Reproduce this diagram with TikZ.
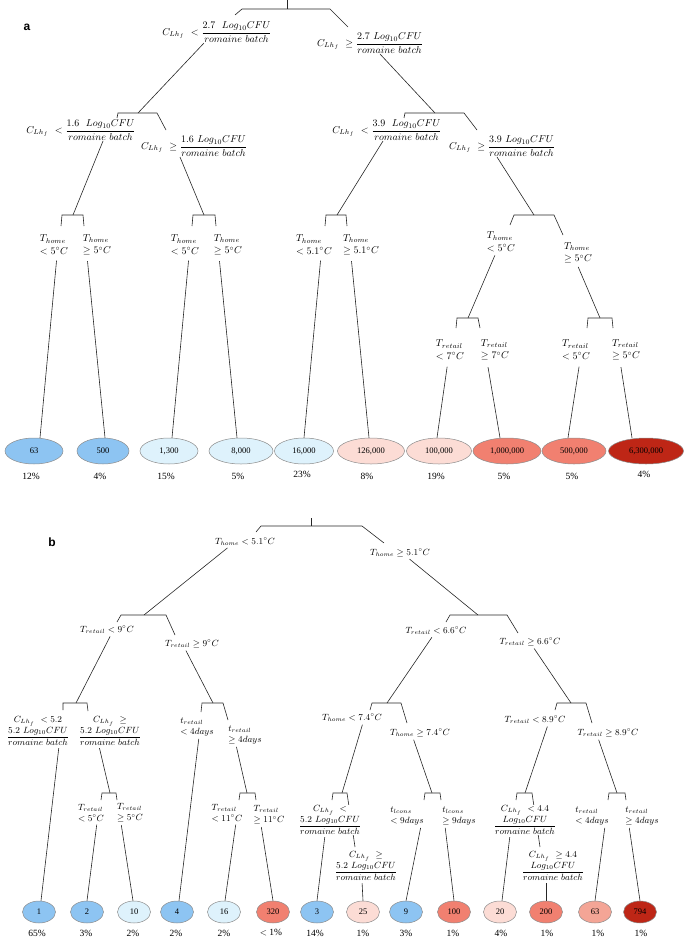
\documentclass[tikz,border=0pt]{standalone}
\usepackage{fontspec}
\usetikzlibrary{shapes.geometric}
\newfontfamily\numfont{Liberation Serif}
\newfontfamily\panelfont{Liberation Sans}
\definecolor{cblue}{RGB}{141,196,242}
\definecolor{cpale}{RGB}{222,242,252}
\definecolor{cpink}{RGB}{252,220,213}
\definecolor{csalm}{RGB}{241,128,112}
\definecolor{csalmL}{RGB}{244,165,150}
\definecolor{cdark}{RGB}{190,38,22}
\pgfdeclarelayer{bg}
\pgfsetlayers{bg,main}
\newcommand{\mkbar}[9]{%
 \coordinate (#1l) at (#3,#2);
 \coordinate (#1r) at (#4,#2);
 \coordinate (#1j) at (#9,#2);
 \coordinate (#1tl) at (#5,#6);
 \coordinate (#1tr) at (#7,#8);
 \draw[con] (#1tl) -- (#1l) -- (#1r) -- (#1tr);}
\begin{document}
\begin{tikzpicture}[x=1pt,y=-1pt,
 con/.style={draw=black!85,line width=0.6pt},
 la/.style={inner sep=0.6pt,font=\fontsize{10}{11.5}\selectfont,align=center},
 lt/.style={inner sep=0.6pt,font=\fontsize{10}{12.5}\selectfont,align=left},
 lb/.style={inner sep=0.6pt,font=\fontsize{8.8}{11}\selectfont,align=center},
 ltb/.style={inner sep=0.6pt,font=\fontsize{8.8}{11}\selectfont,align=left},
 leaf/.style={ellipse,draw=black!45,line width=0.5pt,inner sep=0pt,font=\numfont\fontsize{8.5}{9}\selectfont},
 leafa/.style={leaf,minimum height=26pt},
 leafb/.style={leaf,minimum height=22pt,minimum width=33pt},
 pct/.style={inner sep=0pt,font=\numfont\fontsize{9.5}{10}\selectfont},
 pan/.style={inner sep=0pt,font=\panelfont\bfseries\fontsize{12}{12}\selectfont}]
\useasboundingbox (0,0) rectangle (685,942);

% ---------------- panel a ----------------
\node[pan] (pa) at (27,27) {a};
\node[la] (aL1) at (217,32) {$\displaystyle C_{Lh_f}\ <\frac{2.7\ \ Log_{10}CFU}{romaine\ batch}$};
\node[la] (aR1) at (370,43) {$\displaystyle C_{Lh_f}\ \geq\frac{2.7\ Log_{10}CFU}{romaine\ batch}$};
\node[la] (aLL) at (81,130) {$\displaystyle C_{Lh_f}\ <\frac{1.6\ \ Log_{10}CFU}{romaine\ batch}$};
\node[la] (aLR) at (194,146) {$\displaystyle C_{Lh_f}\ \geq\frac{1.6\ Log_{10}CFU}{romaine\ batch}$};
\node[la] (aRL) at (387,130) {$\displaystyle C_{Lh_f}\ <\frac{3.9\ \ Log_{10}CFU}{romaine\ batch}$};
\node[la] (aRR) at (502,146) {$\displaystyle C_{Lh_f}\ \geq\frac{3.9\ Log_{10}CFU}{romaine\ batch}$};

\node[lt] (aLLa) at (54,245) {$T_{home}$\\$<5^{\circ}C$};
\node[lt] (aLLb) at (97,245) {$T_{home}$\\$\geq5^{\circ}C$};
\node[lt] (aLRa) at (185,245) {$T_{home}$\\$<5^{\circ}C$};
\node[lt] (aLRb) at (228,245) {$T_{home}$\\$\geq5^{\circ}C$};
\node[lt] (aRLa) at (314,245) {$T_{home}$\\$<5.1^{\circ}C$};
\node[lt] (aRLb) at (361,245) {$T_{home}$\\$\geq5.1^{\circ}C$};
\node[lt] (aRRa) at (501,242) {$T_{home}$\\$<5^{\circ}C$};
\node[lt] (aRRb) at (578,253) {$T_{home}$\\$\geq5^{\circ}C$};

\node[lt] (aRRa1) at (450,350) {$T_{retail}$\\$<7^{\circ}C$};
\node[lt] (aRRa2) at (495,350) {$T_{retail}$\\$\geq7^{\circ}C$};
\node[lt] (aRRb1) at (576,350) {$T_{retail}$\\$<5^{\circ}C$};
\node[lt] (aRRb2) at (626,350) {$T_{retail}$\\$\geq5^{\circ}C$};

\node[leafa,fill=cblue,minimum width=58pt] (a1) at (34,451) {63};
\node[leafa,fill=cblue,minimum width=52pt] (a2) at (103,451) {500};
\node[leafa,fill=cpale,minimum width=58pt] (a3) at (169,451) {1,300};
\node[leafa,fill=cpale,minimum width=64pt] (a4) at (241,451) {8,000};
\node[leafa,fill=cpale,minimum width=59pt] (a5) at (304,451) {16,000};
\node[leafa,fill=cpink,minimum width=67pt] (a6) at (371,451) {126,000};
\node[leafa,fill=cpink,minimum width=65pt] (a7) at (439,451) {100,000};
\node[leafa,fill=csalm,minimum width=68pt] (a8) at (507,451) {1,000,000};
\node[leafa,fill=csalm,minimum width=64pt] (a9) at (574,451) {500,000};
\node[leafa,fill=cdark,minimum width=75pt] (a10) at (646,451) {6,300,000};

\node[pct] (ap1) at (31,476) {12\%};
\node[pct] (ap2) at (100,476) {4\%};
\node[pct] (ap3) at (166,476) {15\%};
\node[pct] (ap4) at (238,476) {5\%};
\node[pct] (ap5) at (302,474) {23\%};
\node[pct] (ap6) at (367,476) {8\%};
\node[pct] (ap7) at (436,476) {19\%};
\node[pct] (ap8) at (504,476) {5\%};
\node[pct] (ap9) at (572,476) {5\%};
\node[pct] (ap10) at (644,474) {4\%};

% ---------------- panel b ----------------
\node[pan] (pb) at (52,542) {b};
\node[lb] (bL1) at (245,542) {$T_{home}<5.1^{\circ}C$};
\node[lb] (bR1) at (400,553) {$T_{home}\geq5.1^{\circ}C$};
\node[lb] (bLL) at (107,630) {$T_{retail}<9^{\circ}C$};
\node[lb] (bLR) at (192,644) {$T_{retail}\geq9^{\circ}C$};
\node[lb] (bRL) at (436,631) {$T_{retail}<6.6^{\circ}C$};
\node[lb] (bRR) at (530,642) {$T_{retail}\geq6.6^{\circ}C$};

\node[lb] (bLLa) at (38,731) {$C_{Lh_f}\ <5.2$\\$\displaystyle\frac{5.2\ Log_{10}CFU}{romaine\ batch}$};
\node[lb] (bLLb) at (110,731) {$C_{Lh_f}\ \geq$\\$\displaystyle\frac{5.2\ Log_{10}CFU}{romaine\ batch}$};
\node[ltb] (bLRa) at (197,727) {$t_{retail}$\\$<4days$};
\node[ltb] (bLRb) at (245,735) {$t_{retail}$\\$\geq4days$};
\node[lb] (bRLa) at (352,718) {$T_{home}<7.4^{\circ}C$};
\node[lb] (bRLb) at (420,733) {$T_{home}\geq7.4^{\circ}C$};
\node[lb] (bRRa) at (535,720) {$T_{retail}<8.9^{\circ}C$};
\node[lb] (bRRb) at (608,733) {$T_{retail}\geq8.9^{\circ}C$};

\node[ltb] (b4a) at (91,813) {$T_{retail}$\\$<5^{\circ}C$};
\node[ltb] (b4b) at (130,813) {$T_{retail}$\\$\geq5^{\circ}C$};
\node[ltb] (b4c) at (227,813) {$T_{retail}$\\$<11^{\circ}C$};
\node[ltb] (b4d) at (269,815) {$T_{retail}$\\$\geq11^{\circ}C$};
\node[lb,fill=white] (b4e) at (330,820) {$C_{Lh_f}\ <$\\$\displaystyle\frac{5.2\ Log_{10}CFU}{romaine\ batch}$};
\node[lb] (b4f) at (366,866) {$C_{Lh_f}\ \geq$\\$\displaystyle\frac{5.2\ Log_{10}CFU}{romaine\ batch}$};
\node[ltb] (b4g) at (407,816) {$t_{lcons}$\\$<9days$};
\node[ltb] (b4h) at (459,816) {$t_{lcons}$\\$\geq9days$};
\node[lb,fill=white] (b4i) at (525,820) {$C_{Lh_f}\ <4.4$\\$\displaystyle\frac{Log_{10}CFU}{romaine\ batch}$};
\node[lb] (b4j) at (553,866) {$C_{Lh_f}\ \geq4.4$\\$\displaystyle\frac{Log_{10}CFU}{romaine\ batch}$};
\node[ltb] (b4k) at (592,816) {$t_{retail}$\\$<4days$};
\node[ltb] (b4l) at (642,816) {$t_{retail}$\\$\geq4days$};

\node[leafb,fill=cblue] (m1) at (39,912) {1};
\node[leafb,fill=cblue] (m2) at (87,912) {2};
\node[leafb,fill=cpale] (m3) at (134,912) {10};
\node[leafb,fill=cblue] (m4) at (177,912) {4};
\node[leafb,fill=cpale] (m5) at (224,912) {16};
\node[leafb,fill=csalm] (m6) at (273,912) {320};
\node[leafb,fill=cblue] (m7) at (317,912) {3};
\node[leafb,fill=cpink] (m8) at (363,912) {25};
\node[leafb,fill=cblue] (m9) at (406,912) {9};
\node[leafb,fill=csalm] (m10) at (454,912) {100};
\node[leafb,fill=cpink] (m11) at (500,912) {20};
\node[leafb,fill=csalm] (m12) at (546,912) {200};
\node[leafb,fill=csalmL] (m13) at (595,912) {63};
\node[leafb,fill=cdark] (m14) at (640,912) {794};

\node[pct] (bp1) at (37,933) {65\%};
\node[pct] (bp2) at (86,933) {3\%};
\node[pct] (bp3) at (133,933) {2\%};
\node[pct] (bp4) at (176,933) {2\%};
\node[pct] (bp5) at (224,933) {2\%};
\node[pct] (bp6) at (271,933) {$<$ 1\%};
\node[pct] (bp7) at (315,933) {14\%};
\node[pct] (bp8) at (363,933) {1\%};
\node[pct] (bp9) at (406,933) {3\%};
\node[pct] (bp10) at (453,933) {1\%};
\node[pct] (bp11) at (501,933) {4\%};
\node[pct] (bp12) at (547,933) {1\%};
\node[pct] (bp13) at (598,933) {1\%};
\node[pct] (bp14) at (641,933) {1\%};

% ---------------- connectors ----------------
\begin{pgfonlayer}{bg}
% panel a
\coordinate (aStem) at (287,0);
\mkbar{aB1}{9}{242}{330}{235}{15}{348}{27}{287}
\draw[con] (aStem) -- (aB1j);
\mkbar{aB2L}{113}{118}{157}{117}{118}{166}{130}{138}
\mkbar{aB2R}{113}{405}{464}{404}{118}{477}{130}{435}
\mkbar{aB3a}{215}{62}{83}{61}{226}{84}{226}{73}
\mkbar{aB3b}{215}{193}{215}{192}{226}{216}{226}{204}
\mkbar{aB3c}{215}{326}{346}{325}{226}{347}{226}{337}
\mkbar{aB3d}{215}{514}{554}{510}{225}{563}{235}{534}
\mkbar{aB4a}{318}{457}{478}{456}{328}{480}{328}{468}
\mkbar{aB4b}{318}{588}{612}{587}{328}{613}{328}{600}
\draw[con] ([xshift=-13pt]aL1.south) -- (aB2Lj);
\draw[con] ([xshift=10pt]aR1.south) -- (aB2Rj);
\draw[con] ([xshift=22pt]aLL.south) -- (aB3aj);
\draw[con] ([xshift=-14pt]aLR.south) -- (aB3bj);
\draw[con] ([xshift=-4pt]aRL.south) -- (aB3cj);
\draw[con] ([xshift=-5pt]aRR.south) -- (aB3dj);
\draw[con,shorten <=3pt] ([xshift=-5pt]aRRa.south) -- (aB4aj);
\draw[con,shorten <=3pt] ([xshift=-1pt]aRRb.south) -- (aB4bj);
\draw[con,shorten <=5pt] ([xshift=3pt]aLLa.south) -- ([xshift=6pt]a1.north);
\draw[con,shorten <=5pt] ([xshift=-10pt]aLLb.south) -- ([xshift=2pt]a2.north);
\draw[con,shorten <=5pt] ([xshift=4pt]aLRa.south) -- ([xshift=3pt]a3.north);
\draw[con,shorten <=5pt] ([xshift=-9pt]aLRb.south) -- ([xshift=-4pt]a4.north);
\draw[con,shorten <=5pt] ([xshift=7pt]aRLa.south) -- (a5.north);
\draw[con,shorten <=5pt] ([xshift=-10pt]aRLb.south) -- ([xshift=-2pt]a6.north);
\draw[con,shorten <=6pt] ([xshift=-2pt]aRRa1.south) -- ([xshift=-2pt]a7.north);
\draw[con,shorten <=6pt] ([xshift=-8pt]aRRa2.south) -- ([xshift=-7pt]a8.north);
\draw[con,shorten <=6pt] ([xshift=4pt]aRRb1.south) -- ([xshift=-6pt]a9.north);
\draw[con,shorten <=6pt] ([xshift=-6pt]aRRb2.south) -- ([xshift=-14pt]a10.north);
% panel b
\coordinate (bStem) at (311,518);
\mkbar{bB1}{526}{261}{362}{256}{532}{384}{543}{311}
\draw[con] (bStem) -- (bB1j);
\mkbar{bB2L}{615}{121}{166}{117}{622}{175}{635}{144}
\mkbar{bB2R}{615}{450}{507}{446}{622}{518}{633}{478}
\mkbar{bB3a}{703}{63}{87}{63}{710}{88}{711}{76}
\mkbar{bB3b}{703}{202}{223}{201}{712}{228}{720}{213}
\mkbar{bB3c}{703}{372}{401}{370}{710}{407}{723}{387}
\mkbar{bB3d}{703}{557}{586}{555}{710}{592}{723}{571}
\mkbar{bB4a}{793}{102}{116}{101}{800}{117}{800}{110}
\mkbar{bB4b}{793}{240}{255}{239}{800}{256}{800}{247}
\mkbar{bB4c}{793}{333}{347}{332}{800}{355}{847}{342}
\mkbar{bB4d}{793}{425}{440}{424}{800}{441}{800}{432}
\mkbar{bB4e}{793}{517}{532}{516}{800}{540}{847}{525}
\mkbar{bB4f}{793}{609}{625}{608}{800}{626}{800}{617}
\draw[con,shorten <=2pt] ([xshift=-16pt]bL1.south) -- (bB2Lj);
\draw[con,shorten <=2pt] ([xshift=8pt]bR1.south) -- (bB2Rj);
\draw[con,shorten <=2pt] ([xshift=4pt]bLL.south) -- (bB3aj);
\draw[con,shorten <=2pt] ([xshift=-7pt]bLR.south) -- (bB3bj);
\draw[con,shorten <=2pt] ([xshift=-3pt]bRL.south) -- (bB3cj);
\draw[con,shorten <=2pt] ([xshift=3pt]bRR.south) -- (bB3dj);
\draw[con,shorten <=2pt] ([xshift=-11pt]bLLb.south) -- (bB4aj);
\draw[con,shorten <=2pt] ([xshift=-9pt]bLRb.south) -- (bB4bj);
\draw[con,shorten <=2pt] ([xshift=11pt]bRLa.south) -- (bB4cj);
\draw[con,shorten <=2pt] ([xshift=-7pt]bRLb.south) -- (bB4dj);
\draw[con,shorten <=2pt] ([xshift=13pt]bRRa.south) -- (bB4ej);
\draw[con,shorten <=2pt] ([xshift=-10pt]bRRb.south) -- (bB4fj);
\draw[con,shorten <=2pt] ([xshift=21pt]bLLa.south) -- ([xshift=2pt]m1.north);
\draw[con,shorten <=2pt] ([xshift=6pt]b4a.south) -- (m2.north);
\draw[con,shorten <=2pt] ([xshift=-9pt]b4b.south) -- ([xshift=-1pt]m3.north);
\draw[con,shorten <=2pt] ([xshift=2pt]bLRa.south) -- ([xshift=2pt]m4.north);
\draw[con,shorten <=2pt] ([xshift=9pt]b4c.south) -- ([xshift=1pt]m5.north);
\draw[con,shorten <=2pt] ([xshift=-8pt]b4d.south) -- (m6.north);
\draw[con,shorten <=2pt] ([xshift=-5pt]b4e.south) -- (m7.north);
\draw[con,shorten <=2pt] ([xshift=-4pt]b4f.south) -- (m8.north);
\draw[con,shorten <=2pt] ([xshift=14pt]b4g.south) -- (m9.north);
\draw[con,shorten <=2pt] ([xshift=-14pt]b4h.south) -- (m10.north);
\draw[con,shorten <=2pt] ([xshift=-15pt]b4i.south) -- ([xshift=2pt]m11.north);
\draw[con,shorten <=2pt] ([xshift=-7pt]b4j.south) -- (m12.north);
\draw[con,shorten <=2pt] ([xshift=13pt]b4k.south) -- (m13.north);
\draw[con,shorten <=2pt] ([xshift=-13pt]b4l.south) -- (m14.north);
\end{pgfonlayer}
\end{tikzpicture}
\end{document}
